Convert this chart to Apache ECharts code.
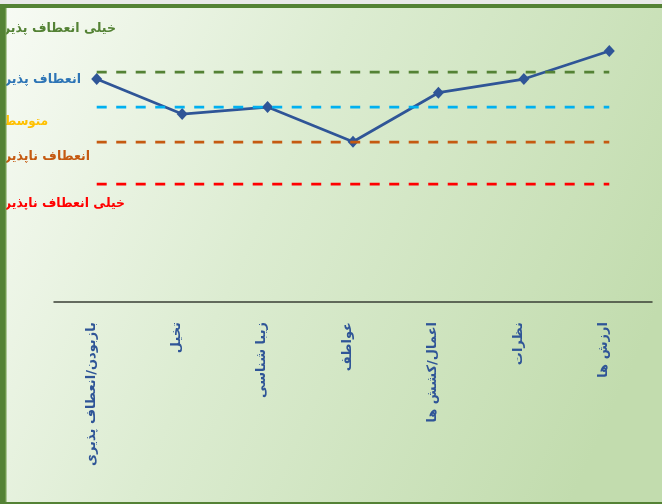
<!DOCTYPE html>
<html>
<head>
<meta charset="utf-8">
<script src="https://cdn.jsdelivr.net/npm/echarts@6/dist/echarts.min.js"></script>
<style>
html,body{margin:0;padding:0;background:#ebebeb;}
#chart{width:662px;height:504px;}
</style>
</head>
<body>
<div id="chart"></div>
<script>
// Data
const categories = ['بازبودن/انعطاف پذیری', 'تخیل', 'زیبا شناسی', 'عواطف', 'اعمال/کشش ها', 'نظرات', 'ارزش ها'];
const scores = [6.37, 5.37, 5.57, 4.58, 5.98, 6.37, 7.17];
const veryFlexible = [6.57, 6.57, 6.57, 6.57, 6.57, 6.57, 6.57];
const average = [5.57, 5.57, 5.57, 5.57, 5.57, 5.57, 5.57];
const inflexible = [4.57, 4.57, 4.57, 4.57, 4.57, 4.57, 4.57];
const veryInflexible = [3.37, 3.37, 3.37, 3.37, 3.37, 3.37, 3.37];
const levelLabels = ['خیلی انعطاف پذیر', 'انعطاف پذیر', 'متوسط', 'انعطاف ناپذیر', 'خیلی انعطاف ناپذیر'];

const chart = echarts.init(document.getElementById('chart'), null, {renderer: 'canvas'});
const FONT = "'DejaVu Sans', sans-serif";
const LABEL_FONT = 'bold 13px ' + FONT;
const labelColors = ['#548235', '#2e75b6', '#ffc000', '#c55a11', '#ff0000'];
// [right end x, center y, target width]
const labelPos = [[116, 29, 113], [81, 80, 77], [48, 122, 44], [90, 157, 86], [125, 204, 121]];

const measureCtx = document.createElement('canvas').getContext('2d');
measureCtx.font = LABEL_FONT;

function dashed(data, color) {
  return {
    type: 'line', data: data, symbol: 'none', silent: true,
    lineStyle: {color: color, width: 2.75, type: [10, 9.5], cap: 'butt'},
    z: 3
  };
}

const graphics = [
  {type: 'rect', shape: {x: 0, y: 0, width: 662, height: 4}, style: {fill: '#e9e9e9'}, z: 100},
  {type: 'rect', shape: {x: 0, y: 4, width: 662, height: 4}, style: {fill: '#548235'}, z: 100},
  {type: 'rect', shape: {x: 0, y: 4, width: 5, height: 500}, style: {fill: '#548235'}, z: 100},
  {type: 'rect', shape: {x: 5, y: 8, width: 1.5, height: 494}, style: {fill: '#6f9a4c'}, z: 100},
  {type: 'rect', shape: {x: 0, y: 502, width: 662, height: 2}, style: {fill: '#548235'}, z: 100}
];
levelLabels.forEach(function (t, i) {
  const w = measureCtx.measureText(t).width || labelPos[i][2];
  graphics.push({
    type: 'text', x: labelPos[i][0], y: labelPos[i][1], z: 50,
    scaleX: Math.min(1, labelPos[i][2] / w),
    style: {text: t, fill: labelColors[i], font: LABEL_FONT, textAlign: 'right', textVerticalAlign: 'middle'}
  });
});

chart.setOption({
  animation: false,
  backgroundColor: {
    type: 'linear', x: 0, y: 0, x2: 1, y2: 0.6,
    colorStops: [
      {offset: 0, color: '#f8fbf5'},
      {offset: 0.45, color: '#dcecd1'},
      {offset: 1, color: '#c2dcae'}
    ]
  },
  grid: {left: 54, right: 10, top: 22, bottom: 202},
  xAxis: {
    type: 'category', data: categories, boundaryGap: true,
    axisLine: {show: true, lineStyle: {color: '#3a3f36', width: 1.5}},
    axisTick: {show: false},
    splitLine: {show: false},
    axisLabel: {
      interval: 0, rotate: 90, margin: 20,
      verticalAlign: 'bottom', lineHeight: 11,
      color: '#2f5597', fontWeight: 'bold', fontSize: 13, fontFamily: FONT
    }
  },
  yAxis: {
    type: 'value', min: 0, max: 8, show: false,
    splitLine: {show: false}
  },
  series: [
    {
      type: 'line', data: scores, symbol: 'diamond', symbolSize: [11, 12],
      itemStyle: {color: '#2f5597'},
      lineStyle: {color: '#2f5597', width: 2.75},
      z: 2
    },
    dashed(veryFlexible, '#548235'),
    dashed(average, '#00b0f0'),
    dashed(inflexible, '#c55a11'),
    dashed(veryInflexible, '#ff0000')
  ],
  graphic: graphics
});
</script>
</body>
</html>
